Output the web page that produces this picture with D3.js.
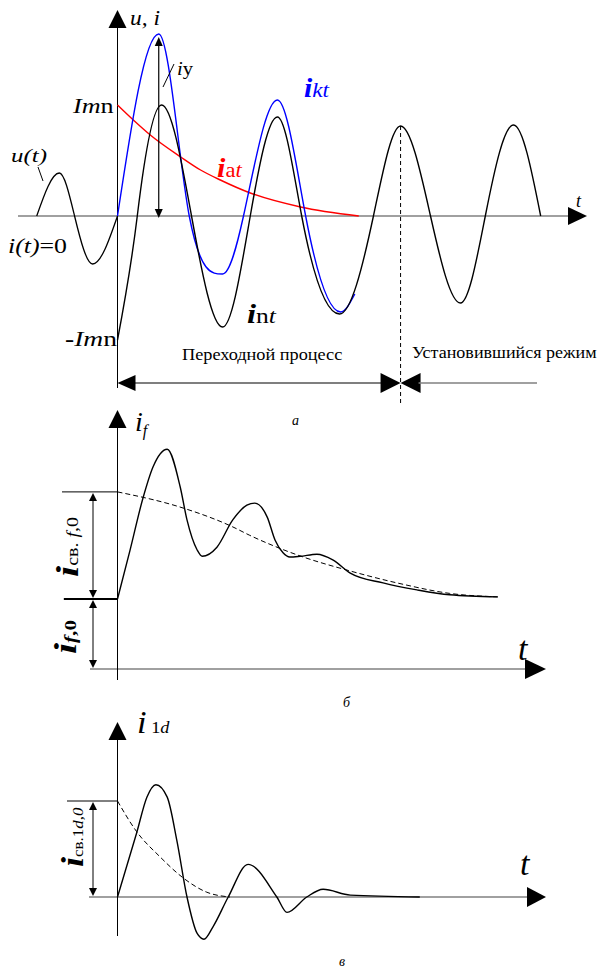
<!DOCTYPE html>
<html><head><meta charset="utf-8">
<script src="https://cdn.jsdelivr.net/npm/d3@7"></script>
<style>
body{margin:0;background:#fff}
svg{display:block}
text{font-family:"Liberation Serif","DejaVu Serif",serif;fill:#000}
</style>
</head><body>
<svg id="chart" width="601" height="969" font-family="Liberation Serif, DejaVu Serif, serif"></svg>
<script>
// Time in ms from the fault instant, currents/voltage in relative units.

// (a) short-circuit currents
const uBefore = [[-14.3,0],[-10.3,0.43],[-7.6,0],[-4.4,-0.48],[0,0]];
const iKt = [[0,0],[7.3,1.82],[12.7,0],[18.6,-0.58],[22.3,0],[28.3,1.16],[33.3,0],[39.5,-0.96],[42.0,-0.78]];
const iNt = [[0,-1.24],[3.5,0],[7.8,1.11],[13.1,0],[18.6,-1.11],[23.5,0],[28.3,0.99],[32.6,0],[39.3,-0.98],[45.3,0],[50.1,0.90],[55.4,0],[60.7,-0.87],[65.1,0],[70.1,0.91],[74.9,0]];
const iAt = [[0,1.11],[2.8,0.96],[5.8,0.81],[11.2,0.59],[14.7,0.46],[18.2,0.36],[23.5,0.23],[32.4,0.09],[42.7,0]];
const steadyPeakT = 50.1;

// (б) field winding current
const ifPre = [[-9.5,1],[0,1]];
const ifTotal = [[0,1.0],[2.2,1.69],[4.5,2.44],[6.3,2.89],[8.8,3.14],[11.1,2.60],[12.3,2.13],[14.1,1.70],[15.0,1.61],[17.6,1.74],[20.4,2.13],[22.9,2.34],[24.3,2.37],[26.5,2.17],[27.9,1.84],[29.3,1.66],[30.5,1.60],[32.3,1.61],[35.3,1.64],[38.1,1.56],[41.2,1.37],[47.0,1.23],[53.0,1.13],[58.8,1.06],[67.3,1.03]];
const ifFree = [[0,2.53],[11.6,2.30],[20.4,2.03],[23.4,1.91],[31.8,1.63],[41.2,1.40],[50.0,1.22],[58.8,1.08],[67.3,1.03]];

// (в) damper winding current
const i1dTotal = [[0,0],[3.4,0.67],[5.2,1.04],[6.8,1.17],[8.8,1.04],[10.5,0.59],[12.3,0],[14.1,-0.38],[15.3,-0.44],[16.9,-0.31],[19.6,0],[23.1,0.34],[28.2,0],[30.0,-0.16],[33.5,0],[36.4,0.08],[41.2,0.02],[53.5,0]];
const i1dFree = [[0,1],[3.4,0.68],[7.5,0.42],[11.6,0.20],[15.8,0.05],[19.9,0]];

const svg = d3.select("#chart");
const x = d3.scaleLinear().domain([0, 20]).range([117.5, 230.5]);
const yA = d3.scaleLinear().domain([0, 1]).range([216, 116]);
const yB = d3.scaleLinear().domain([0, 1]).range([669, 599]);
const yC = d3.scaleLinear().domain([0, 1]).range([897, 801]);

const AX = x(0);
const GRAY = "#808080";
const FONT = "Liberation Serif, DejaVu Serif, serif";

function line(g, x1, y1, x2, y2, color, w, dash) {
  const l = g.append("line").attr("x1", x1).attr("y1", y1).attr("x2", x2).attr("y2", y2)
    .attr("stroke", color || "#000").attr("stroke-width", w || 1);
  if (dash) l.attr("stroke-dasharray", dash);
  return l;
}
// filled triangle; dir: "up","down","left","right"
function head(g, tx, ty, dir, len, half) {
  let p;
  if (dir === "up") p = [[tx, ty], [tx - half, ty + len], [tx + half, ty + len]];
  if (dir === "down") p = [[tx, ty], [tx - half, ty - len], [tx + half, ty - len]];
  if (dir === "right") p = [[tx, ty], [tx - len, ty - half], [tx - len, ty + half]];
  if (dir === "left") p = [[tx, ty], [tx + len, ty - half], [tx + len, ty + half]];
  g.append("path").attr("d", "M" + p.map(d => d.join(",")).join("L") + "Z").attr("fill", "#000");
}
function curve(g, data, ys, kind, color, w, dash) {
  const gen = d3.line().x(d => x(d[0])).y(d => ys(d[1])).curve(kind);
  const p = g.append("path").attr("d", gen(data)).attr("fill", "none")
    .attr("stroke", color).attr("stroke-width", w).attr("stroke-linejoin", "round");
  if (dash) p.attr("stroke-dasharray", dash);
  return p;
}
// Hermite curve y(x) for oscillations: flat at extrema, steeper (sine-like) through zero crossings
function wave(g, data, ys, color, w) {
  const X = data.map(d => x(d[0])), Y = data.map(d => ys(d[1]));
  const n = X.length - 1;
  const h = d3.range(n).map(i => X[i + 1] - X[i]);
  const s = d3.range(n).map(i => (Y[i + 1] - Y[i]) / h[i]);
  const m = new Array(n + 1).fill(0);
  for (let i = 1; i < n; i++) {
    if (s[i - 1] * s[i] <= 0) { m[i] = 0; continue; }
    const p = (h[i - 1] * s[i] + h[i] * s[i - 1]) / (h[i - 1] + h[i]);
    const lim = 3 * Math.min(Math.abs(s[i - 1]), Math.abs(s[i]));
    m[i] = Math.sign(p) * Math.min(Math.abs(1.5 * p), lim);
  }
  m[0] = (3 * s[0] - m[1]) / 2;
  m[n] = (3 * s[n - 1] - m[n - 1]) / 2;
  const p = d3.path();
  p.moveTo(X[0], Y[0]);
  for (let i = 0; i < n; i++) {
    p.bezierCurveTo(X[i] + h[i] / 3, Y[i] + m[i] * h[i] / 3, X[i + 1] - h[i] / 3, Y[i + 1] - m[i + 1] * h[i] / 3, X[i + 1], Y[i + 1]);
  }
  return g.append("path").attr("d", p.toString()).attr("fill", "none")
    .attr("stroke", color).attr("stroke-width", w);
}
// text built from [string, style] runs; optional width stretches it horizontally
function label(g, px, py, runs, opts) {
  opts = opts || {};
  const holder = g.append("g");
  const t = holder.append("text").attr("x", 0).attr("y", 0).attr("font-family", FONT);
  if (opts.anchor) t.attr("text-anchor", opts.anchor);
  runs.forEach(r => {
    const s = t.append("tspan").text(r[0]);
    const st = r[1] || {};
    s.attr("font-size", st.size || 16);
    if (st.italic) s.attr("font-style", "italic");
    if (st.bold) s.attr("font-weight", "bold");
    if (st.dy) s.attr("dy", st.dy);
    if (st.fill) s.style("fill", st.fill);
  });
  let sx = 1;
  if (opts.width) {
    const w = t.node().getBBox().width;
    if (w > 0) sx = opts.width / w;
  }
  holder.attr("transform", `translate(${px},${py}) rotate(${opts.rotate || 0}) scale(${sx},1)`);
  return holder;
}

/* ---------- (a) ---------- */
const gA = svg.append("g");
line(gA, 18, yA(0), 570, yA(0), GRAY, 1.6);
head(gA, 587, yA(0), "right", 19, 9);
line(gA, AX, 26, AX, 388, "#000", 1);
head(gA, AX, 10, "up", 18, 9);

// transient / steady-state interval arrows
const yInt = 383;
line(gA, AX + 4, yInt, 384, yInt, "#000", 1.2);
head(gA, AX, yInt, "left", 18, 8);
head(gA, x(steadyPeakT), yInt, "right", 20, 10);
head(gA, x(steadyPeakT), yInt, "left", 20, 10);
line(gA, x(steadyPeakT) + 18, yInt, 537, yInt, GRAY, 1.4);
const peakSS = iNt.find(d => d[0] === steadyPeakT);
line(gA, x(steadyPeakT), yA(peakSS[1]), x(steadyPeakT), 403, "#000", 1, "4,3");

wave(gA, uBefore, yA, "#000", 1.3);
curve(gA, iAt, yA, d3.curveMonotoneX, "#ff0000", 1.4);
wave(gA, iKt, yA, "#0000ff", 1.4);
wave(gA, iNt, yA, "#000", 1.4);

// shock current arrow
const peakKt = iKt[1];
line(gA, x(peakKt[0]), yA(peakKt[1]) + 8, x(peakKt[0]), yA(0) - 4, "#000", 1.2);
head(gA, x(peakKt[0]), yA(peakKt[1]) + 3, "up", 9, 4);
head(gA, x(peakKt[0]), yA(0) + 2, "down", 9, 4);
line(gA, 163, 87, 174, 64, "#000", 1);
label(gA, 177, 75, [["i", {italic: true, size: 18}], ["у", {size: 18}]], {width: 16});

label(gA, 130, 25, [["u, i", {italic: true, size: 20}]], {width: 30});
label(gA, 576, 207, [["t", {italic: true, size: 18}]]);
label(gA, 73, yA(iAt[0][1]) + 8, [["I", {italic: true, size: 20}], ["m", {italic: true, size: 20}], ["n", {size: 20}]], {width: 42});
label(gA, 65, yA(iNt[0][1]) + 6, [["-", {size: 20, bold: true}], ["Im", {italic: true, size: 20}], ["n", {size: 20}]], {width: 52});
label(gA, 11, 162, [["u(t)", {italic: true, size: 18}]], {width: 36});
line(gA, 38, 167, 43, 181, "#000", 1);
label(gA, 8, 253, [["i(t)", {italic: true, size: 20}], ["=0", {size: 20}]], {width: 59});
label(gA, 217, 177, [["i", {italic: true, bold: true, size: 28, fill: "#ff0000"}], ["a", {size: 21, fill: "#ff0000"}], ["t", {italic: true, size: 21, fill: "#ff0000"}]], {width: 26});
label(gA, 304, 97, [["i", {italic: true, bold: true, size: 28, fill: "#0000ff"}], ["kt", {italic: true, size: 22, fill: "#0000ff"}]], {width: 26});
label(gA, 247, 323, [["i", {italic: true, bold: true, size: 28}], ["n", {size: 22}], ["t", {italic: true, size: 22}]], {width: 30});

label(gA, 182, 360, [["Переходной процесс", {size: 17}]], {width: 161});
label(gA, 412, 358, [["Установившийся режим", {size: 17}]], {width: 185});
label(gA, 292, 425, [["а", {italic: true, size: 14}]]);

/* ---------- (б) ---------- */
const gB = svg.append("g");
line(gB, 90, yB(0), 528, yB(0), GRAY, 1.6);
head(gB, 546, yB(0), "right", 21, 10);
line(gB, AX, 426, AX, 680, "#000", 1);
head(gB, AX, 410, "up", 18, 9);

const topB = yB(ifFree[0][1]);
line(gB, 62, topB, AX, topB, "#000", 1);
line(gB, 93, topB + 6, 93, yB(1) - 6, "#000", 1);
head(gB, 93, topB + 1, "up", 8, 4);
head(gB, 93, yB(1) - 1, "down", 8, 4);
line(gB, 93, yB(1) + 6, 93, yB(0) - 6, "#000", 1);
head(gB, 93, yB(1) + 1, "up", 8, 4);
head(gB, 93, yB(0) - 1, "down", 8, 4);

curve(gB, ifPre, yB, d3.curveLinear, "#000", 2.2);
curve(gB, ifFree, yB, d3.curveMonotoneX, "#000", 1, "5,3");
curve(gB, ifTotal, yB, d3.curveMonotoneX, "#000", 1.4);

label(gB, 135, 431, [["i", {italic: true, size: 28}], ["f", {italic: true, size: 16, dy: 5}]]);
label(gB, 78, 577, [["i", {italic: true, bold: true, size: 32}], ["св.", {size: 16}], [" f", {italic: true, size: 16}], [",0", {size: 16}]], {rotate: -90, width: 60});
label(gB, 76, 654, [["i", {italic: true, bold: true, size: 32}], ["f", {italic: true, bold: true, size: 17}], [",0", {bold: true, size: 17}]], {rotate: -90, width: 34});
label(gB, 518, 660, [["t", {italic: true, size: 34}]]);
label(gB, 343, 707, [["б", {italic: true, size: 14}]]);

/* ---------- (в) ---------- */
const gC = svg.append("g");
line(gC, 89, yC(0), 528, yC(0), GRAY, 1.6);
head(gC, 546, yC(0), "right", 19, 10);
line(gC, AX, 738, AX, 936, "#000", 1);
head(gC, AX, 722, "up", 18, 9);

const topC = yC(i1dFree[0][1]);
line(gC, 67, topC, AX, topC, "#000", 1);
line(gC, 93, topC + 6, 93, yC(0) - 6, "#000", 1);
head(gC, 93, topC + 1, "up", 8, 4);
head(gC, 93, yC(0) - 1, "down", 8, 4);

curve(gC, i1dFree, yC, d3.curveMonotoneX, "#000", 1, "5,3");
curve(gC, i1dTotal, yC, d3.curveMonotoneX, "#000", 1.4);

label(gC, 137, 733, [["i", {italic: true, size: 32}], [" 1", {size: 17}], ["d", {italic: true, size: 17}]], {width: 33});
label(gC, 83, 867, [["i", {italic: true, bold: true, size: 32}], ["св.1", {size: 15}], ["d", {italic: true, size: 15}], [",0", {italic: true, size: 15}]], {rotate: -90, width: 60});
label(gC, 520, 875, [["t", {italic: true, size: 34}]]);
label(gC, 339, 966, [["в", {italic: true, size: 14}]]);
</script>
</body></html>
